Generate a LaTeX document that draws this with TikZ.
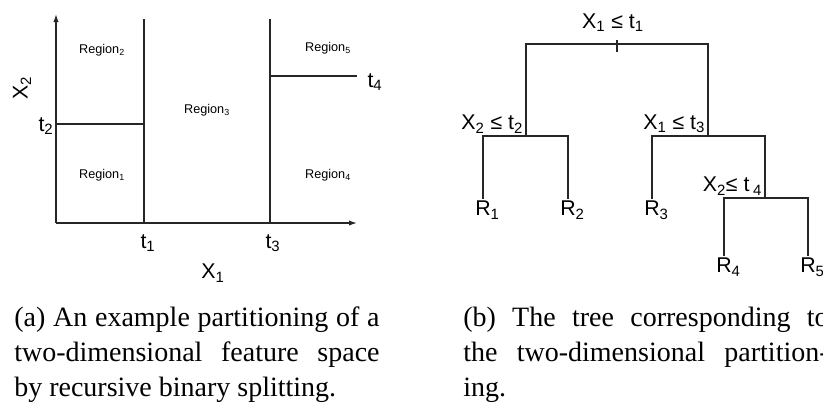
\documentclass[tikz,border=0pt]{standalone}
\usepackage{fontspec}
\setmainfont{Liberation Serif}
\setsansfont{Liberation Sans}
\usetikzlibrary{arrows.meta}

\begin{document}
\begin{tikzpicture}[x=0.75pt, y=-0.75pt,
  edge/.style={draw=black!85, line width=1pt},
  axis/.style={edge, -{Latex[length=6pt, width=4pt]}},
  region/.style={font=\sffamily\fontsize{9.5}{11}\selectfont, inner sep=0pt},
  axlabel/.style={font=\sffamily\fontsize{16}{18}\selectfont, inner sep=0pt},
  split/.style={font=\sffamily\fontsize{16}{18}\selectfont, inner sep=2pt},
  leaf/.style={font=\sffamily\fontsize{16}{18}\selectfont, inner sep=1.5pt, anchor=north},
  caption/.style={font=\fontsize{21}{26}\selectfont, text width=274pt, align=justify, inner sep=0pt, anchor=north west}
]
\useasboundingbox (0,0) rectangle (823,404);

% feature space
\coordinate (o) at (56,223);
\coordinate (ytop) at (56,14);
\coordinate (xend) at (357,223);
\coordinate (t1top) at (144,19);
\coordinate (t3top) at (270,19);
\coordinate (t2left) at (56,124);
\coordinate (t4left) at (270,76);
\draw[axis] (o) -- (ytop);
\draw[axis] (o) -- (xend);
\draw[edge] (o -| t1top) -- (t1top);
\draw[edge] (o -| t3top) -- (t3top);
\draw[edge] (t2left) -- (t2left -| t1top);
\draw[edge] (t4left) -- (t4left -| xend);
\foreach \x/\y/\i in {102/175/1, 102/50/2, 207/110/3, 328/175/4, 328/48/5} {
  \node[region] (reg\i) at (\x,\y) {Region\textsubscript{\i}};
}
\node[axlabel] (lt1) at (148,243) {t\textsubscript{1}};
\node[axlabel] (lt2) at (46,126) {t\textsubscript{2}};
\node[axlabel] (lt3) at (273,243) {t\textsubscript{3}};
\node[axlabel] (lt4) at (375,82) {t\textsubscript{4}};
\node[axlabel] (lx1) at (213,273) {X\textsubscript{1}};
\node[axlabel, rotate=90] (lx2) at (22,88) {X\textsubscript{2}};

% tree
\coordinate (s1) at (617,44);
\coordinate (s2) at (526,136);
\coordinate (s3) at (708,136);
\coordinate (s4) at (765,198);
\foreach \x/\y/\i in {483/199/1, 568/199/2, 652/199/3, 724/256/4, 808/256/5} {
  \node[leaf] (r\i) at (\x,\y) {R\rlap{\textsubscript{\i}}};
}
\draw[edge] (s2) |- (s1) -| (s3);
\draw[edge] (r1.north) |- (s2) -| (r2.north);
\draw[edge] (r3.north) |- (s3) -| (s4);
\draw[edge] (r4.north) |- (s4) -| (r5.north);
\draw[edge] ([yshift=3pt]s1) -- ([yshift=-6pt]s1);
\node[split, anchor=south] (q1) at ([xshift=-3pt, yshift=7pt]s1) {X\textsubscript{1} ≤ t\textsubscript{1}};
\node[split, anchor=south east] (q2) at (s2) {X\textsubscript{2} ≤ t\textsubscript{2}};
\node[split, anchor=south east] (q3) at (s3) {X\textsubscript{1} ≤ t\textsubscript{3}};
\node[split, anchor=south east] (q4) at (s4) {X\textsubscript{2}≤ t\,\textsubscript{4}};

% captions
\node[caption] (capa) at (14,307) {(a) An example partitioning of a\linebreak two-dimensional feature space\linebreak by recursive binary splitting.};
\node[caption] (capb) at (463,307) {(b) The tree corresponding to\linebreak the two-dimensional partition-\linebreak ing.};
\end{tikzpicture}
\end{document}
